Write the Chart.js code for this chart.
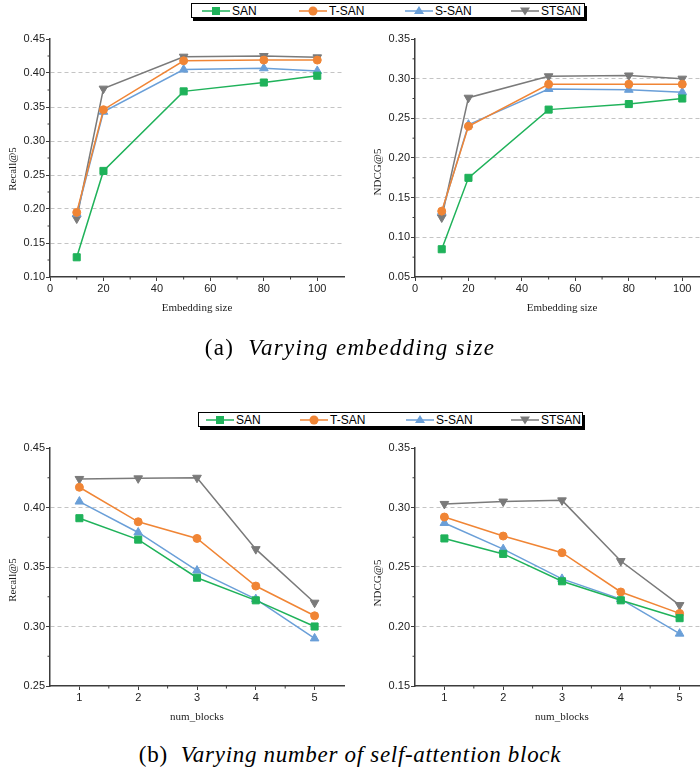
<!DOCTYPE html>
<html>
<head>
<meta charset="utf-8">
<script src="https://cdn.jsdelivr.net/npm/chart.js@4.4.1/dist/chart.umd.min.js"></script>
<style>
    html, body { margin: 0; padding: 0; background: #fff; }
    body { width: 700px; height: 771px; position: relative; overflow: hidden; }
    canvas { position: absolute; }
    .legend {
        position: absolute; height: 15px; border: 1px solid #000;
        box-shadow: 2px 3px 0 #000; background: #fff;
        font: 12px "Liberation Sans", Arial, sans-serif; color: #000;
        box-sizing: border-box;
    }
    .legend .item {
        position: absolute; top: 0; height: 13px; white-space: nowrap;
        display: flex; align-items: center; gap: 2px;
    }
    .ytitle, .xtitle {
        position: absolute; font: 11px "Liberation Serif", "Times New Roman", serif; color: #222;
        white-space: nowrap;
    }
    .ytitle { transform: translate(-50%, -50%) rotate(-90deg); }
    .xtitle { transform: translate(-50%, -50%); }
    .caption {
        position: absolute; left: 0; width: 700px; text-align: center; white-space: nowrap;
        font: 23px "Liberation Serif", "Times New Roman", serif; color: #000;
        letter-spacing: 0.7px; line-height: 26px;
    }
</style>
</head>
<body>

<div class="legend" id="legendTop" style="left:191px; top:3px; width:394px;"></div>
<div class="legend" id="legendBottom" style="left:198px; top:412px; width:385px;"></div>

<canvas id="recallEmb" width="350" height="320" style="left:0; top:0;"></canvas>
<canvas id="ndcgEmb" width="350" height="320" style="left:365px; top:0;"></canvas>
<canvas id="recallBlk" width="350" height="330" style="left:0; top:400px;"></canvas>
<canvas id="ndcgBlk" width="350" height="330" style="left:365px; top:400px;"></canvas>

<div class="ytitle" style="left:12px; top:169px;">Recall@5</div>
<div class="ytitle" style="left:377px; top:172px;">NDCG@5</div>
<div class="xtitle" style="left:197px; top:307px;">Embedding size</div>
<div class="xtitle" style="left:562px; top:307px;">Embedding size</div>
<div class="ytitle" style="left:12px; top:580px;">Recall@5</div>
<div class="ytitle" style="left:377px; top:583px;">NDCG@5</div>
<div class="xtitle" style="left:197px; top:716px;">num_blocks</div>
<div class="xtitle" style="left:562px; top:716px;">num_blocks</div>

<div class="caption" style="top:335px; letter-spacing:1.3px;">(a)&nbsp; <i>Varying embedding size</i></div>
<div class="caption" style="top:742px;">(b)&nbsp; <i>Varying number of self-attention block</i></div>

<script>
// Series names and colours
const seriesNames = ['SAN', 'T-SAN', 'S-SAN', 'STSAN'];
const seriesColors = ['#1fb25a', '#f08535', '#6a9fd8', '#7a7a7a'];

// (a) embedding size
const embedSizes = [10, 20, 50, 80, 100];
const recallEmbSAN = [0.129, 0.256, 0.373, 0.386, 0.396];
const recallEmbTSAN = [0.195, 0.346, 0.418, 0.419, 0.419];
const recallEmbSSAN = [0.193, 0.343, 0.405, 0.407, 0.403];
const recallEmbSTSAN = [0.186, 0.377, 0.424, 0.425, 0.423];
const ndcgEmbSAN = [0.085, 0.175, 0.261, 0.268, 0.275];
const ndcgEmbTSAN = [0.133, 0.240, 0.293, 0.293, 0.293];
const ndcgEmbSSAN = [0.132, 0.242, 0.287, 0.286, 0.283];
const ndcgEmbSTSAN = [0.125, 0.276, 0.303, 0.304, 0.300];

// (b) number of blocks
const numBlocks = [1, 2, 3, 4, 5];
const recallBlkSAN = [0.391, 0.373, 0.341, 0.322, 0.300];
const recallBlkTSAN = [0.417, 0.388, 0.374, 0.334, 0.309];
const recallBlkSSAN = [0.405, 0.379, 0.347, 0.323, 0.290];
const recallBlkSTSAN = [0.424, 0.4245, 0.425, 0.365, 0.320];
const ndcgBlkSAN = [0.274, 0.261, 0.238, 0.222, 0.207];
const ndcgBlkTSAN = [0.292, 0.276, 0.262, 0.229, 0.211];
const ndcgBlkSSAN = [0.287, 0.265, 0.240, 0.223, 0.194];
const ndcgBlkSTSAN = [0.303, 0.305, 0.306, 0.255, 0.218];

// Tick labels
const embTicks = [0, 20, 40, 60, 80, 100];
const embMinorTicks = [10, 30, 50, 70, 90];
const blkTicks = [1, 2, 3, 4, 5];
const blkMinorTicks = [1.5, 2.5, 3.5, 4.5];
const recallEmbTicks = [0.10, 0.15, 0.20, 0.25, 0.30, 0.35, 0.40, 0.45];
const ndcgEmbTicks = [0.05, 0.10, 0.15, 0.20, 0.25, 0.30, 0.35];
const recallBlkTicks = [0.25, 0.30, 0.35, 0.40, 0.45];
const ndcgBlkTicks = [0.15, 0.20, 0.25, 0.30, 0.35];

const pointStyles = ['rect', 'circle', 'triangle', 'triangle'];
const pointRotations = [0, 0, 0, 180];
const pointRadii = [5, 4, 5, 5];

const axisColor = '#3c3c3c';
const tickFont = { family: '"Liberation Sans", Arial, sans-serif', size: 11 };

// Minor tick marks halfway between the major ones
const minorTicks = {
    id: 'minorTicks',
    afterDraw(chart, args, opts) {
        const { ctx, chartArea } = chart;
        ctx.save();
        ctx.strokeStyle = axisColor;
        ctx.lineWidth = 1;
        (opts.x || []).forEach(v => {
            const px = chart.scales.x.getPixelForValue(v);
            ctx.beginPath();
            ctx.moveTo(px, chartArea.bottom);
            ctx.lineTo(px, chartArea.bottom + 2.5);
            ctx.stroke();
        });
        (opts.y || []).forEach(v => {
            const py = chart.scales.y.getPixelForValue(v);
            ctx.beginPath();
            ctx.moveTo(chartArea.left, py);
            ctx.lineTo(chartArea.left - 2.5, py);
            ctx.stroke();
        });
        ctx.restore();
    }
};

const midpoints = arr => arr.slice(1).map((v, i) => (v + arr[i]) / 2);

const makeChart = (id, xs, seriesList, cfg) => {
    const ctx = document.getElementById(id).getContext('2d');
    const yMin = cfg.yTicks[0];
    const yMax = cfg.yTicks[cfg.yTicks.length - 1];
    new Chart(ctx, {
        type: 'line',
        data: {
            datasets: seriesList.map((vals, i) => ({
                label: seriesNames[i],
                data: xs.map((x, j) => ({ x: x, y: vals[j] })),
                borderColor: seriesColors[i],
                backgroundColor: seriesColors[i],
                borderWidth: 1.5,
                pointStyle: pointStyles[i],
                pointRotation: pointRotations[i],
                pointRadius: pointRadii[i],
                pointBorderWidth: 1,
                tension: 0
            }))
        },
        options: {
            responsive: false,
            animation: false,
            events: [],
            layout: { padding: { top: cfg.padTop, right: 5, left: 0, bottom: 0 } },
            plugins: {
                legend: { display: false },
                tooltip: { enabled: false },
                minorTicks: { x: cfg.xMinor, y: midpoints(cfg.yTicks) }
            },
            scales: {
                x: {
                    type: 'linear',
                    min: cfg.xMin,
                    max: cfg.xMax,
                    afterBuildTicks: s => { s.ticks = cfg.xTicks.map(v => ({ value: v })); },
                    afterFit: s => { s.height = cfg.xHeight; },
                    grid: { drawOnChartArea: false, tickLength: 4, tickColor: axisColor },
                    border: { color: axisColor, width: 1.5 },
                    ticks: { color: '#222', font: tickFont, padding: 1, maxRotation: 0, autoSkip: false }
                },
                y: {
                    min: yMin,
                    max: yMax,
                    afterBuildTicks: s => { s.ticks = cfg.yTicks.map(v => ({ value: v })); },
                    afterFit: s => { s.width = 50; },
                    grid: {
                        color: c => (c.tick && c.tick.value > yMin + 1e-9 && c.tick.value < yMax - 1e-9) ? '#c4c4c4' : 'rgba(0,0,0,0)',
                        lineWidth: 1,
                        tickLength: 4,
                        tickColor: axisColor
                    },
                    border: { color: axisColor, width: 1.5, dash: [4, 3] },
                    ticks: {
                        color: '#222', font: tickFont, padding: 1, autoSkip: false,
                        callback: v => v.toFixed(2)
                    }
                }
            }
        },
        plugins: [minorTicks]
    });
};

// Legend boxes drawn as HTML with SVG markers
const markerSvg = i => {
    const c = seriesColors[i];
    let mark = '';
    if (i === 0) mark = `<rect x="10" y="3" width="8" height="8" fill="${c}"/>`;
    if (i === 1) mark = `<circle cx="14" cy="7" r="4.5" fill="${c}"/>`;
    if (i === 2) mark = `<polygon points="14,2 19,10 9,10" fill="${c}"/>`;
    if (i === 3) mark = `<polygon points="9,3.5 19,3.5 14,11.5" fill="${c}"/>`;
    return `<svg width="28" height="14"><line x1="0" y1="7" x2="28" y2="7" stroke="${c}" stroke-width="1.5"/>${mark}</svg>`;
};

const legendItemLeftTop = [10, 107, 213, 319];
const legendItemLeftBottom = [7, 101, 207, 312];

const buildLegend = (id, lefts) => {
    document.getElementById(id).innerHTML = seriesNames
        .map((name, i) => `<span class="item" style="left:${lefts[i]}px">${markerSvg(i)}<span>${name}</span></span>`)
        .join('');
};

document.addEventListener('DOMContentLoaded', function() {
    buildLegend('legendTop', legendItemLeftTop);
    buildLegend('legendBottom', legendItemLeftBottom);

    const embCfg = { xMin: 0, xMax: 110, xTicks: embTicks, xMinor: embMinorTicks, padTop: 39, xHeight: 43 };
    const blkCfg = { xMin: 0.5, xMax: 5.5, xTicks: blkTicks, xMinor: blkMinorTicks, padTop: 48, xHeight: 44 };

    makeChart('recallEmb', embedSizes, [recallEmbSAN, recallEmbTSAN, recallEmbSSAN, recallEmbSTSAN],
        { ...embCfg, yTicks: recallEmbTicks });
    makeChart('ndcgEmb', embedSizes, [ndcgEmbSAN, ndcgEmbTSAN, ndcgEmbSSAN, ndcgEmbSTSAN],
        { ...embCfg, yTicks: ndcgEmbTicks });
    makeChart('recallBlk', numBlocks, [recallBlkSAN, recallBlkTSAN, recallBlkSSAN, recallBlkSTSAN],
        { ...blkCfg, yTicks: recallBlkTicks });
    makeChart('ndcgBlk', numBlocks, [ndcgBlkSAN, ndcgBlkTSAN, ndcgBlkSSAN, ndcgBlkSTSAN],
        { ...blkCfg, yTicks: ndcgBlkTicks });
});
</script>
</body>
</html>
